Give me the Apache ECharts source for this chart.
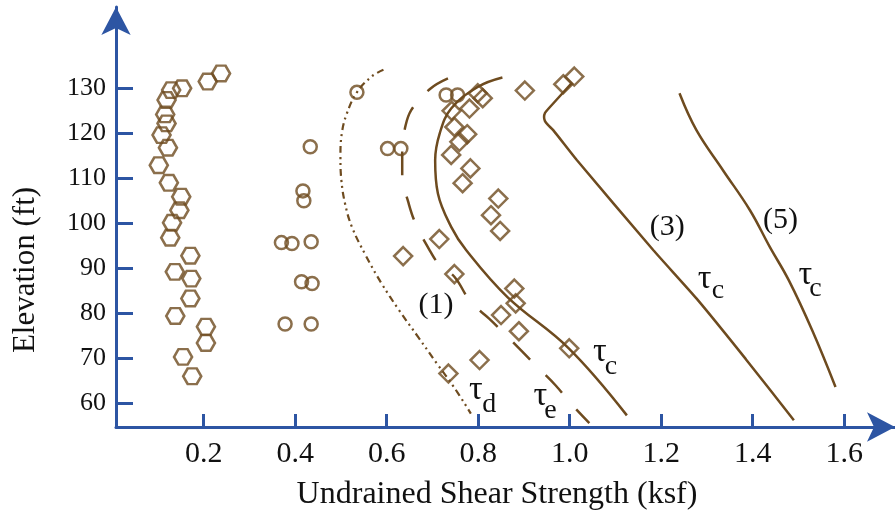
<!DOCTYPE html>
<html>
<head>
<meta charset="utf-8">
<script src="https://cdn.jsdelivr.net/npm/echarts@6/dist/echarts.min.js"></script>
<style>
html,body{margin:0;padding:0;background:#fff;}
#c{width:895px;height:518px;}
</style>
</head>
<body>
<div id="c"></div>
<script>
// ---- tick labels ----
const xTicks = [0.2, 0.4, 0.6, 0.8, 1.0, 1.2, 1.4, 1.6];
const yTicks = [60, 70, 80, 90, 100, 110, 120, 130];

// ---- measured points [strength ksf, elevation ft] ----
const hexagons = [
  [0.238,133.3],[0.209,131.5],[0.153,130.0],[0.129,129.6],[0.119,127.4],[0.116,124.2],
  [0.119,122.2],[0.108,119.6],[0.122,116.8],[0.102,112.9],[0.124,109.0],[0.151,105.9],
  [0.147,102.9],[0.131,100.1],[0.127,96.8],[0.171,92.8],[0.137,89.2],[0.173,87.7],
  [0.171,83.3],[0.138,79.4],[0.205,77.0],[0.205,73.4],[0.155,70.3],[0.175,66.0]
];
const circles = [
  [0.535,129.1],[0.433,117.0],[0.602,116.6],[0.631,116.6],[0.730,128.5],[0.755,128.5],
  [0.417,107.2],[0.419,105.0],[0.370,95.7],[0.393,95.5],[0.435,95.9],[0.414,87.0],
  [0.437,86.6],[0.378,77.6],[0.435,77.6]
];
const diamonds = [
  [0.799,128.9],[0.810,127.8],[0.781,125.5],[0.742,125.0],[0.748,121.4],[0.776,119.8],
  [0.759,118.1],[0.741,115.2],[0.783,112.2],[0.766,108.9],[0.844,105.5],[0.828,101.8],
  [0.848,98.3],[0.715,96.5],[0.636,92.7],[0.902,129.5],[0.986,130.9],[1.010,132.6],
  [0.748,88.7],[0.879,85.5],[0.882,82.2],[0.850,79.6],[0.889,76.0],[0.999,72.2],
  [0.803,69.6],[0.735,66.6]
];

// ---- curves ----
const tauD = [
  [0.593,134.1],[0.567,132.6],[0.535,129.1],[0.513,124.4],[0.502,120.0],[0.499,114.8],
  [0.501,109.6],[0.509,104.4],[0.524,99.2],[0.554,92.9],[0.589,86.6],[0.627,80.7],
  [0.669,74.7],[0.710,68.8],[0.747,63.6],[0.784,57.7]
];
const tauE = [
  [0.734,132.2],[0.694,129.8],[0.654,125.2],[0.640,121.1],[0.634,116.3],[0.634,110.3],
  [0.647,104.8],[0.663,100.0],[0.694,94.0],[0.716,90.7],[0.748,88.1],[0.784,82.5],
  [0.824,78.8],[0.857,75.5],[0.897,71.4],[0.933,67.7],[0.969,64.0],[1.003,59.9],[1.043,55.6]
];
const tauC1 = [
  [0.853,132.4],[0.799,130.3],[0.741,125.5],[0.716,120.0],[0.706,114.0],[0.712,106.6],
  [0.741,99.2],[0.774,94.0],[0.864,83.6],[0.998,72.2],[1.125,57.3]
];
const tauC3 = [
  [1.005,131.2],[0.953,125.4],[0.946,124.5],[0.944,123.6],[0.946,122.7],[0.953,121.8],
  [0.964,120.7],[1.016,114.0],[1.183,94.0],[1.277,83.3],[1.385,69.8],[1.490,56.2]
];
const tauC5 = [
  [1.240,128.9],[1.277,120.7],[1.335,111.8],[1.394,102.9],[1.437,94.8],[1.479,87.3],
  [1.530,76.2],[1.581,63.6]
];

// ---- annotations [x, y, text, kind] ----
const annotations = [
  [0.708, 81.8, '(1)', 'p'],
  [0.795, 62.9, 'τ', 't'], [0.824, 59.6, 'd', 's'],
  [0.936, 61.6, 'τ', 't'], [0.958, 58.3, 'e', 's'],
  [1.066, 71.3, 'τ', 't'], [1.090, 68.2, 'c', 's'],
  [1.213, 99.1, '(3)', 'p'],
  [1.295, 87.7, 'τ', 't'], [1.324, 85.1, 'c', 's'],
  [1.461, 100.7, '(5)', 'p'],
  [1.515, 88.5, 'τ', 't'], [1.537, 85.5, 'c', 's']
];

const BROWN = '#6E4B1F';
const BLUE = '#2D55A3';
const INK = '#111111';
const FONT = '"Liberation Serif", "Times New Roman", serif';
const HEX = 'path://M0,8.66 L5,0 L15,0 L20,8.66 L15,17.32 L5,17.32 Z';

const markerStyle = {color: 'transparent', borderColor: BROWN, borderWidth: 2.5};
const sizes = {p: 30, t: 34, s: 28};

const chart = echarts.init(document.getElementById('c'), null, {renderer: 'canvas'});
chart.setOption({
  animation: false,
  backgroundColor: '#ffffff',
  grid: {left: 116, right: -5, top: 7, bottom: 91},
  xAxis: {
    type: 'value', min: 0.00847, max: 1.711,
    axisLine: {show: true, onZero: false, lineStyle: {color: BLUE, width: 3},
      symbol: ['none', 'arrow'], symbolSize: [22, 28]},
    axisTick: {show: true, inside: true, length: 13, lineStyle: {color: BLUE, width: 3}, customValues: xTicks},
    axisLabel: {show: true, customValues: xTicks, margin: 12, fontSize: 30, fontFamily: FONT, color: INK,
      formatter: v => v.toFixed(1)},
    splitLine: {show: false}
  },
  yAxis: {
    type: 'value', min: 54.72, max: 148.07,
    axisLine: {show: true, onZero: false, lineStyle: {color: BLUE, width: 3},
      symbol: ['none', 'arrow'], symbolSize: [22, 28]},
    axisTick: {show: true, inside: true, length: 17, lineStyle: {color: BLUE, width: 3}, customValues: yTicks},
    axisLabel: {show: true, customValues: yTicks, margin: 10, fontSize: 26, fontFamily: FONT, color: INK},
    splitLine: {show: false}
  },
  graphic: [
    {type: 'text', rotation: Math.PI / 2, x: 26, y: 270,
      style: {text: 'Elevation (ft)', font: '31px ' + FONT, fill: INK, align: 'center', verticalAlign: 'middle'}},
    {type: 'text', x: 497, y: 495,
      style: {text: 'Undrained Shear Strength (ksf)', font: '32px ' + FONT, fill: INK, align: 'center', verticalAlign: 'middle'}}
  ],
  series: [
    {type: 'line', data: tauD, smooth: 0.4, showSymbol: false, lineStyle: {color: BROWN, width: 2.2, type: [7, 4, 2, 4, 2, 4]}, z: 2},
    {type: 'line', data: tauE, smooth: 0.4, showSymbol: false, lineStyle: {color: BROWN, width: 2.5, type: [24, 22]}, z: 2},
    {type: 'line', data: tauC1, smooth: 0.4, showSymbol: false, lineStyle: {color: BROWN, width: 2.5}, z: 2},
    {type: 'line', data: tauC3, smooth: 0.2, showSymbol: false, lineStyle: {color: BROWN, width: 2.5}, z: 2},
    {type: 'line', data: tauC5, smooth: 0.4, showSymbol: false, lineStyle: {color: BROWN, width: 2.5}, z: 2},
    {type: 'scatter', data: hexagons, symbol: HEX, symbolSize: [18, 15.6], itemStyle: markerStyle, z: 3},
    {type: 'scatter', data: circles, symbol: 'circle', symbolSize: 13, itemStyle: markerStyle, z: 3},
    {type: 'scatter', data: diamonds, symbol: 'diamond', symbolSize: 18, itemStyle: markerStyle, z: 3},
    {type: 'scatter', symbol: 'circle', symbolSize: 0, z: 4, itemStyle: {color: INK},
      data: annotations.map(a => ({value: [a[0], a[1]],
        label: {show: true, position: 'inside', formatter: a[2], fontSize: sizes[a[3]], fontFamily: FONT,
          color: INK, textBorderWidth: 0, textShadowBlur: 0, opacity: 1}}))}
  ]
});
</script>
</body>
</html>
